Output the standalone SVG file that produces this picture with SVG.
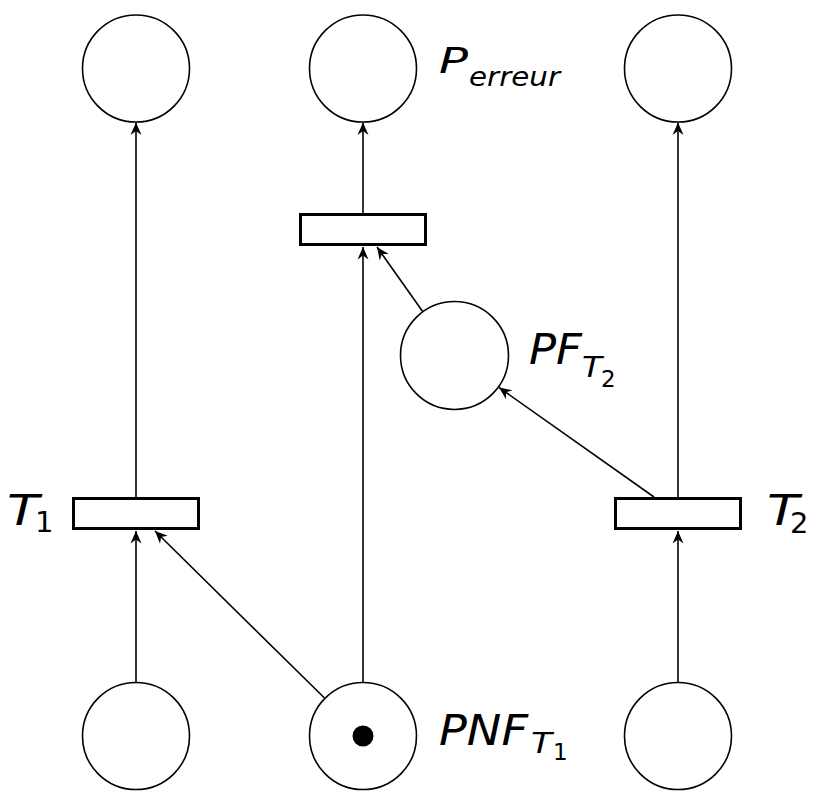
<svg xmlns="http://www.w3.org/2000/svg" width="823" height="805" viewBox="0 0 823 805">
<style>
.place{fill:#fff;stroke:#000;stroke-width:1.6}
.trans{fill:#fff;stroke:#000;stroke-width:3}
.arc{fill:none;stroke:#000;stroke-width:1.6;marker-end:url(#ah)}
text{font-family:"DejaVu Sans","Liberation Sans",sans-serif;fill:#000}
.it{font-style:italic}
</style>
<defs>
<marker id="ah" markerUnits="userSpaceOnUse" markerWidth="16" markerHeight="14" viewBox="-14 -7 16 14" refX="0" refY="0" orient="auto">
<path d="M0,0 L-12.5,-5.5 L-8.5,0 L-12.5,5.5 Z" fill="#000"/>
</marker>
</defs>
<rect width="823" height="805" fill="#fff"/>
<g id="connectors">
<line class="arc" x1="136" y1="682.5" x2="136" y2="531"/>
<line class="arc" x1="324.5" y1="698" x2="155" y2="531"/>
<line class="arc" x1="363" y1="682.5" x2="363" y2="247"/>
<line class="arc" x1="136" y1="497" x2="136" y2="122.5"/>
<line class="arc" x1="363" y1="213" x2="363" y2="122.5"/>
<line class="arc" x1="423" y1="312" x2="377" y2="247"/>
<line class="arc" x1="654" y1="497" x2="499" y2="387.5"/>
<line class="arc" x1="678" y1="497" x2="678" y2="122.5"/>
<line class="arc" x1="678" y1="682.5" x2="678" y2="531"/>
</g>
<g id="p_top_left"><circle class="place" cx="136" cy="68.5" r="53.5"/></g>
<g id="p_erreur"><circle class="place" cx="363" cy="68.5" r="53.5"/>
<text x="439" y="73" font-size="35" class="it" textLength="29" lengthAdjust="spacingAndGlyphs">P</text>
<text x="469" y="86" font-size="26" class="it" textLength="91" lengthAdjust="spacingAndGlyphs">erreur</text>
</g>
<g id="p_top_right"><circle class="place" cx="678" cy="68.5" r="53.5"/></g>
<g id="t_mid"><rect class="trans" x="300.5" y="214.5" width="125" height="30"/></g>
<g id="p_ft2"><circle class="place" cx="454.5" cy="355.5" r="54"/>
<text x="529" y="364" font-size="42" class="it" textLength="53" lengthAdjust="spacingAndGlyphs">PF</text>
<text x="582" y="377" font-size="28" class="it" textLength="20" lengthAdjust="spacingAndGlyphs">T</text>
<text x="601" y="387" font-size="23">2</text>
</g>
<g id="t1"><rect class="trans" x="73.5" y="498.5" width="125" height="30"/>
<text x="7" y="525" font-size="42" class="it" textLength="32" lengthAdjust="spacingAndGlyphs">T</text>
<text x="35" y="532" font-size="29">1</text>
</g>
<g id="t2"><rect class="trans" x="615.5" y="498.5" width="125" height="30"/>
<text x="767" y="525" font-size="42" class="it" textLength="32" lengthAdjust="spacingAndGlyphs">T</text>
<text x="790" y="533" font-size="29">2</text>
</g>
<g id="p_bottom_left"><circle class="place" cx="136" cy="736" r="53.5"/></g>
<g id="p_nft1"><circle class="place" cx="363" cy="736" r="53.5"/>
<circle cx="363" cy="736" r="10.5" fill="#000"/>
<text x="439" y="745" font-size="42" class="it" textLength="89" lengthAdjust="spacingAndGlyphs">PNF</text>
<text x="531" y="753" font-size="28" class="it" textLength="21" lengthAdjust="spacingAndGlyphs">T</text>
<text x="553" y="760" font-size="23">1</text>
</g>
<g id="p_bottom_right"><circle class="place" cx="678" cy="736" r="53.5"/></g>
</svg>
